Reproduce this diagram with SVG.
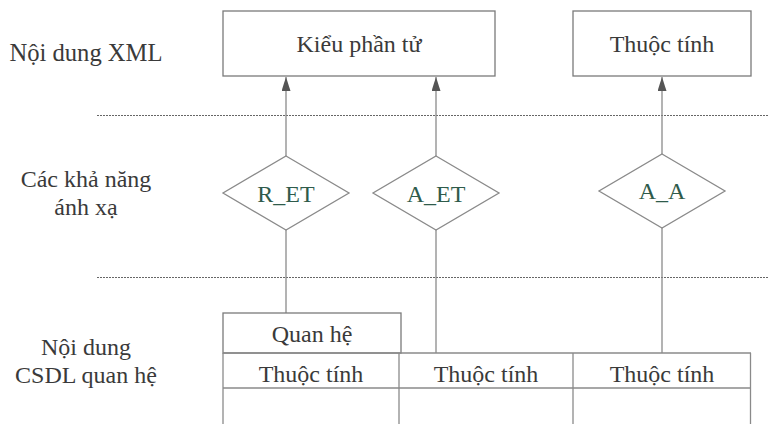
<svg xmlns="http://www.w3.org/2000/svg" width="769" height="424" viewBox="0 0 769 424">
<style>
text{font-family:"Liberation Serif","Times New Roman",serif;font-size:24px;text-anchor:middle}
.t{fill:#3a3a3a}
.g{fill:#2f5b4b}
.box{fill:#fff;stroke:#7a7a7a;stroke-width:1.3}
.dia{fill:#fff;stroke:#8a8a8a;stroke-width:1.3}
.ln{stroke:#8a8a8a;stroke-width:1.3;fill:none}
.dot{stroke:#666;stroke-width:1;stroke-dasharray:2,1;fill:none}
</style>
<defs>
<marker id="ah" markerWidth="14" markerHeight="9" refX="14" refY="4.5" orient="auto" markerUnits="userSpaceOnUse" viewBox="0 0 14 9">
<path d="M0,0 L14,4.5 L0,9 Z" fill="#555"/>
</marker>
</defs>
<rect width="769" height="424" fill="#fff"/>
<g id="labels">
<text class="t" x="86" y="61" style="font-size:24.6px">Nội dung XML</text>
<text class="t" x="86" y="187">Các khả năng</text>
<text class="t" x="86" y="215">ánh xạ</text>
<text class="t" x="86" y="355">Nội dung</text>
<text class="t" x="86" y="383">CSDL quan hệ</text>
</g>
<g id="separators">
<line class="dot" x1="97" y1="115.5" x2="769" y2="115.5"/>
<line class="dot" x1="97" y1="277.5" x2="769" y2="277.5"/>
</g>
<g id="connectors">
<line class="ln" x1="286" y1="156" x2="286" y2="77" marker-end="url(#ah)"/>
<line class="ln" x1="436" y1="156" x2="436" y2="77" marker-end="url(#ah)"/>
<line class="ln" x1="662" y1="154" x2="662" y2="77" marker-end="url(#ah)"/>
<line class="ln" x1="286" y1="230" x2="286" y2="313"/>
<line class="ln" x1="436" y1="230" x2="436" y2="353"/>
<line class="ln" x1="662" y1="228" x2="662" y2="353"/>
</g>
<g id="kieu-phan-tu">
<rect class="box" x="223" y="11" width="272" height="65"/>
<text class="t" x="359" y="52">Kiểu phần tử</text>
</g>
<g id="thuoc-tinh-xml">
<rect class="box" x="573" y="11" width="178" height="65"/>
<text class="t" x="662" y="52">Thuộc tính</text>
</g>
<g id="r-et">
<polygon class="dia" points="286,156 349,193 286,230 223,193"/>
<text class="g" x="286" y="202">R_ET</text>
</g>
<g id="a-et">
<polygon class="dia" points="436,156 499,193 436,230 373,193"/>
<text class="g" x="436" y="202">A_ET</text>
</g>
<g id="a-a">
<polygon class="dia" points="662,154 725,191 662,228 599,191"/>
<text class="g" x="662" y="199">A_A</text>
</g>
<g id="quan-he">
<rect class="box" x="223" y="313" width="178" height="40"/>
<text class="t" x="312" y="342">Quan hệ</text>
</g>
<g id="bang">
<line class="ln" x1="223" y1="353" x2="751" y2="353"/>
<line class="ln" x1="223" y1="388" x2="751" y2="388"/>
<line class="ln" x1="223" y1="353" x2="223" y2="424"/>
<line class="ln" x1="399" y1="353" x2="399" y2="424"/>
<line class="ln" x1="573" y1="353" x2="573" y2="424"/>
<line class="ln" x1="750.5" y1="353" x2="750.5" y2="424"/>
<text class="t" x="311" y="382">Thuộc tính</text>
<text class="t" x="486" y="382">Thuộc tính</text>
<text class="t" x="662" y="382">Thuộc tính</text>
</g>
</svg>
